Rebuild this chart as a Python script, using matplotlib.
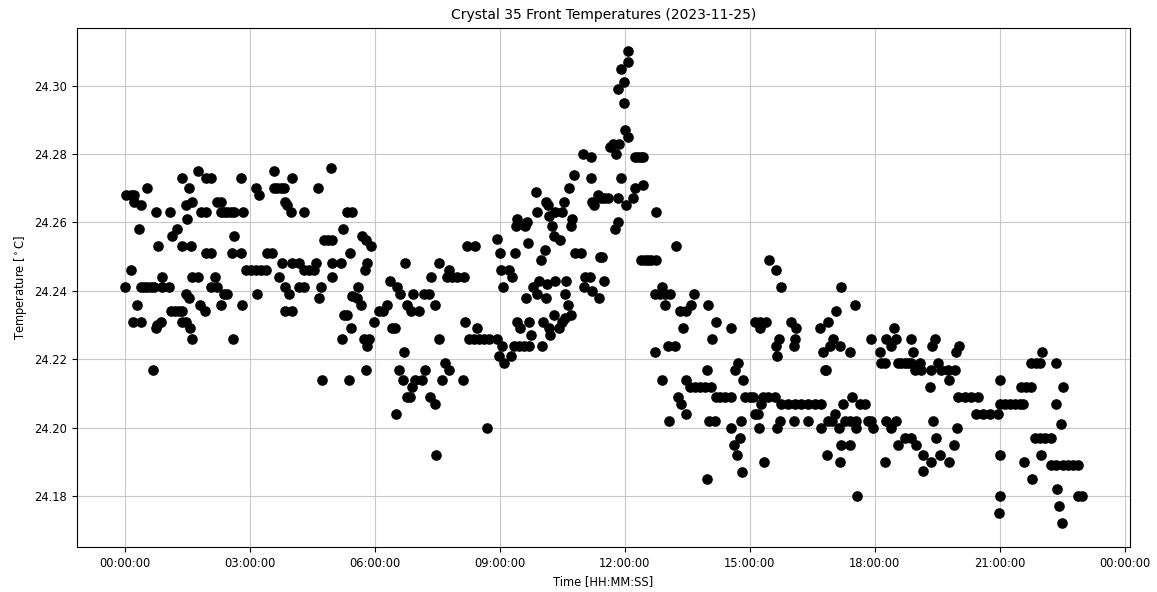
import datetime as dt
import matplotlib
matplotlib.use("Agg")
import matplotlib.pyplot as plt
import matplotlib.dates as mdates
import matplotlib.ticker as mticker

# hours since 2023-11-25 00:00:00 and temperature (deg C)
hours_a = [1.76,1.36,1.94,2.06,2.79,0.52,1.54,0.02,0.14,0.22,0.22,0.38,0.75,1.08,1.46,1.62,1.50,1.82,1.94,2.22,2.30,2.30,2.38,2.46,2.54,2.62,2.84,0.34,1.26,1.12,0.80,1.38,1.58,2.62,1.94,2.06,2.58,2.78,0.14,0.90,1.62,1.75,2.16,0.0,0.38,0.46,0.54,0.62,0.70,0.90,1.06,2.06,2.22,2.38,2.46,1.46,1.54,0.28,1.80,1.92,2.30,2.82,1.10,1.20,1.30,1.38,0.20,0.38,0.86,0.78,1.38,1.46,0.74,1.56,1.60,2.60,0.68]
temps_a = [24.275,24.273,24.273,24.273,24.273,24.270,24.270,24.268,24.268,24.268,24.266,24.265,24.263,24.263,24.265,24.266,24.261,24.263,24.263,24.266,24.266,24.263,24.263,24.263,24.263,24.263,24.263,24.258,24.258,24.256,24.253,24.253,24.253,24.256,24.251,24.251,24.251,24.251,24.246,24.244,24.244,24.244,24.244,24.241,24.241,24.241,24.241,24.241,24.241,24.241,24.241,24.241,24.241,24.239,24.239,24.239,24.238,24.236,24.236,24.234,24.236,24.236,24.234,24.234,24.234,24.234,24.231,24.231,24.231,24.230,24.231,24.231,24.229,24.229,24.226,24.226,24.217]

hours_b = [3.58,4.02,4.94,3.14,3.22,3.58,3.66,3.74,3.82,3.85,3.90,3.98,4.30,4.64,5.34,5.46,5.24,4.78,4.88,4.98,5.70,5.79,5.90,3.42,3.54,5.40,2.90,3.02,3.14,3.26,3.38,3.78,4.02,4.18,4.30,4.42,4.54,4.58,4.98,5.18,3.70,4.96,5.82,5.76,3.85,3.93,4.18,4.30,4.70,4.66,5.60,3.16,5.46,5.58,5.66,3.85,4.0,5.26,5.34,5.42,5.22,5.74,5.86,5.82,5.98,6.10,5.78,4.72,5.38]
temps_b = [24.275,24.273,24.276,24.270,24.268,24.270,24.270,24.270,24.270,24.266,24.265,24.263,24.263,24.270,24.263,24.263,24.258,24.255,24.255,24.255,24.256,24.255,24.253,24.251,24.251,24.251,24.246,24.246,24.246,24.246,24.246,24.248,24.248,24.248,24.246,24.246,24.246,24.248,24.248,24.248,24.244,24.244,24.248,24.246,24.241,24.239,24.241,24.241,24.241,24.238,24.241,24.239,24.2385,24.238,24.236,24.234,24.234,24.233,24.233,24.229,24.226,24.226,24.226,24.224,24.231,24.234,24.217,24.214,24.214]

hours_c = [8.21,8.41,8.93,6.72,7.55,7.79,7.73,7.85,7.97,8.13,7.34,6.36,6.52,6.60,6.92,7.17,7.31,6.76,6.86,7.05,7.45,6.28,6.20,6.40,6.48,7.53,8.17,8.45,8.25,8.37,8.49,8.61,8.73,8.93,6.70,7.69,7.77,6.59,7.21,6.67,6.96,7.13,6.88,7.61,8.11,6.76,6.84,7.33,7.45,6.51,8.69,7.47,9.0,9.02,9.08,9.05,8.97]
temps_c = [24.253,24.253,24.2553,24.248,24.248,24.246,24.244,24.244,24.244,24.244,24.244,24.243,24.241,24.239,24.239,24.239,24.239,24.236,24.234,24.234,24.236,24.236,24.234,24.229,24.229,24.226,24.231,24.229,24.226,24.226,24.226,24.226,24.226,24.226,24.222,24.219,24.217,24.217,24.217,24.214,24.214,24.214,24.212,24.214,24.214,24.209,24.209,24.209,24.207,24.204,24.200,24.192,24.251,24.246,24.241,24.224,24.221]

hours_d = [12.08,12.08,11.92,11.99,11.83,11.99,12.0,11.64,11.72,11.85,11.78,12.08,10.99,11.19,10.77,11.19,11.92,10.67,9.87,11.35,11.43,11.51,11.59,11.83,11.21,11.27,12.03,10.10,10.16,10.53,9.90,10.19,10.33,10.49,9.42,9.40,9.60,9.66,10.73,10.71,10.25,11.84,11.76,10.29,10.45,9.68,10.08,9.37,10.81,10.95,11.41,11.46,9.98,9.21,9.29,9.94,9.79,9.90,10.11,10.14,10.33,10.60,10.57,10.64,9.64,11.05,11.17,11.01,11.22,11.49,11.37,10.71,10.57,10.49,10.41,10.29,9.70,9.42,9.48,10.04,10.18,10.21,9.76,9.34,9.46,9.58,9.70,10.02,9.26,9.10]
temps_d = [24.310,24.307,24.305,24.301,24.299,24.295,24.287,24.282,24.283,24.283,24.280,24.285,24.280,24.279,24.274,24.273,24.273,24.270,24.269,24.268,24.267,24.267,24.267,24.267,24.266,24.265,24.265,24.266,24.265,24.266,24.263,24.262,24.263,24.263,24.261,24.259,24.259,24.260,24.261,24.259,24.259,24.260,24.258,24.256,24.255,24.254,24.252,24.251,24.251,24.251,24.250,24.250,24.249,24.246,24.244,24.243,24.241,24.239,24.238,24.242,24.243,24.243,24.239,24.236,24.238,24.244,24.244,24.241,24.240,24.243,24.238,24.233,24.232,24.231,24.229,24.233,24.231,24.231,24.229,24.231,24.229,24.227,24.227,24.224,24.224,24.224,24.224,24.224,24.221,24.219]

hours_e = [12.24,12.32,12.40,12.44,12.24,12.20,12.44,12.74,13.22,12.40,12.48,12.56,12.64,12.76,12.90,12.72,12.84,12.96,13.08,13.66,12.96,13.58,14.0,13.32,13.48,14.18,13.40,14.56,14.10,13.04,13.20,12.72,14.72,14.64,13.98,12.90,13.48,14.84,13.56,13.68,13.80,13.92,14.08,13.28,13.36,14.20,14.28,14.40,14.56,13.46,13.06,14.02,14.16,14.78,14.54,14.76,14.62,14.70,14.82,13.98]
temps_e = [24.279,24.279,24.279,24.279,24.270,24.267,24.271,24.263,24.253,24.249,24.249,24.249,24.249,24.249,24.241,24.239,24.239,24.239,24.239,24.239,24.236,24.236,24.236,24.234,24.234,24.231,24.229,24.229,24.226,24.224,24.224,24.222,24.219,24.217,24.217,24.214,24.214,24.214,24.212,24.212,24.212,24.212,24.212,24.209,24.207,24.209,24.209,24.209,24.209,24.204,24.202,24.202,24.202,24.202,24.200,24.197,24.195,24.192,24.187,24.185]

hours_f = [15.46,15.62,15.76,17.18,17.52,17.06,16.88,15.12,15.24,15.40,15.24,16.0,16.12,16.68,15.70,15.62,15.66,16.08,16.06,17.0,16.92,17.16,16.77,17.40,16.80,16.84,14.88,15.0,15.08,15.32,15.44,15.60,15.26,15.76,15.92,16.08,16.24,16.40,16.56,16.72,17.46,17.24,17.64,17.76,15.12,15.20,17.04,16.98,15.72,16.06,16.40,16.88,17.28,17.40,17.56,17.84,17.92,15.22,15.66,16.72,17.14,17.54,17.96,17.20,17.40,16.86,15.34,17.16,17.58]
temps_f = [24.249,24.246,24.241,24.241,24.236,24.234,24.231,24.231,24.231,24.231,24.229,24.231,24.229,24.229,24.226,24.224,24.221,24.226,24.224,24.226,24.224,24.224,24.222,24.222,24.217,24.217,24.209,24.209,24.209,24.209,24.209,24.209,24.207,24.207,24.207,24.207,24.207,24.207,24.207,24.207,24.209,24.207,24.207,24.207,24.204,24.204,24.204,24.202,24.202,24.202,24.202,24.202,24.202,24.202,24.202,24.202,24.202,24.200,24.200,24.200,24.200,24.200,24.200,24.195,24.195,24.192,24.190,24.190,24.180]

hours_g = [18.46,17.92,18.26,18.50,18.38,18.12,18.88,18.92,19.44,19.38,20.02,19.94,18.16,18.24,18.56,18.64,18.72,18.80,18.88,19.08,18.96,19.12,19.36,19.52,19.60,19.76,19.92,19.78,19.32,20.0,20.16,20.32,20.48,20.44,20.60,20.76,20.96,18.28,18.50,18.40,19.40,19.98,18.72,18.88,19.0,18.56,19.48,19.90,19.16,19.56,18.24,19.16,19.36,19.78]
temps_g = [24.229,24.226,24.226,24.226,24.224,24.222,24.226,24.222,24.226,24.224,24.224,24.222,24.219,24.219,24.219,24.219,24.219,24.219,24.219,24.219,24.217,24.217,24.217,24.219,24.217,24.217,24.217,24.214,24.212,24.209,24.209,24.209,24.209,24.204,24.204,24.204,24.204,24.202,24.202,24.200,24.202,24.200,24.197,24.197,24.195,24.195,24.197,24.195,24.192,24.192,24.190,24.1874,24.190,24.190]

hours_h = [22.02,21.76,21.88,21.96,22.34,21.0,21.52,21.64,21.76,22.52,21.0,21.12,21.24,21.36,21.48,21.56,22.36,22.46,21.84,21.96,22.08,22.24,21.0,22.0,21.58,22.24,22.36,22.52,22.64,22.76,22.88,21.78,22.38,22.88,22.98,21.0,22.42,20.98,22.50]
temps_h = [24.222,24.219,24.219,24.219,24.219,24.214,24.212,24.212,24.212,24.212,24.207,24.207,24.207,24.207,24.207,24.207,24.207,24.201,24.197,24.197,24.197,24.197,24.192,24.192,24.190,24.189,24.189,24.189,24.189,24.189,24.189,24.185,24.182,24.180,24.180,24.180,24.177,24.175,24.172]

hours = hours_a + hours_b + hours_c + hours_d + hours_e + hours_f + hours_g + hours_h
temps = temps_a + temps_b + temps_c + temps_d + temps_e + temps_f + temps_g + temps_h

base = dt.datetime(2023, 11, 25)
times = [base + dt.timedelta(hours=h) for h in hours]

plt.rcParams['font.size'] = 8.3
fig = plt.figure(figsize=(11.57, 5.92), dpi=100)
ax = fig.add_axes([0.0666, 0.076, 0.9101, 0.877])
ax.scatter(times, temps, s=44, c='black', zorder=3)
ax.xaxis.set_major_locator(mdates.HourLocator(byhour=range(0, 24, 3)))
ax.xaxis.set_major_formatter(mdates.DateFormatter('%H:%M:%S'))
ax.yaxis.set_major_locator(mticker.MultipleLocator(0.02))
ax.yaxis.set_major_formatter(mticker.FormatStrFormatter('%.2f'))
ax.grid(True, color='#c8c8c8')
ax.set_axisbelow(True)
ax.set_title('Crystal 35 Front Temperatures (2023-11-25)', fontsize=10)
ax.set_xlabel('Time [HH:MM:SS]')
ax.set_ylabel('Temperature [$^\\circ$C]')
fig.savefig('out.png', dpi=100)
